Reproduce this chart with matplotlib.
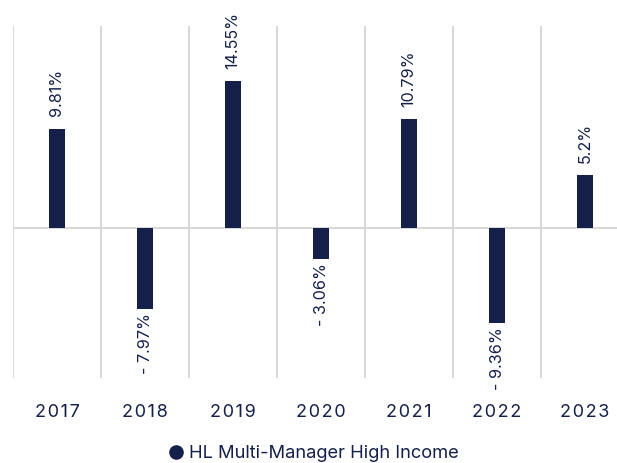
import matplotlib
matplotlib.use("Agg")
import matplotlib.pyplot as plt
from matplotlib.lines import Line2D

plt.rcParams['font.family'] = ['Inter', 'DejaVu Sans']

years = ['2017', '2018', '2019', '2020', '2021', '2022', '2023']
returns = [9.81, -7.97, 14.55, -3.06, 10.79, -9.36, 5.2]
labels = ['9.81%', '- 7.97%', '14.55%', '- 3.06%', '10.79%', '- 9.36%', '5.2%']
series_name = 'HL Multi-Manager High Income'

navy = '#14204a'
grid = '#d4d4d4'

fig = plt.figure(figsize=(6.17, 4.63), dpi=100)
ax = fig.add_axes([13 / 617, 85 / 463, 616 / 617, 352 / 463])

x = list(range(len(years)))
ax.bar(x, returns, width=0.19, color=navy, zorder=3)

for xi, v, lab in zip(x, returns, labels):
    if v >= 0:
        ax.annotate(lab, (xi, v), xytext=(0, 9), textcoords='offset points',
                    rotation=90, ha='center', va='bottom', fontsize=11.7, color=navy)
    else:
        ax.annotate(lab, (xi, v), xytext=(0, -3), textcoords='offset points',
                    rotation=90, ha='center', va='top', fontsize=11.7, color=navy)

# category separators and zero line
for xi in x:
    ax.axvline(xi - 0.5, color=grid, lw=1.3, zorder=1)
ax.axhline(0, color=grid, lw=1.3, zorder=2)

ax.set_xlim(-0.5, len(years) - 0.5)
ax.set_ylim(-14.85, 20)
ax.set_xticks(x)
# slightly tracked-out year labels
ax.set_xticklabels(['\u200a'.join(y) for y in years], fontsize=13, color=navy)
ax.tick_params(axis='x', length=0, pad=19)
ax.set_yticks([])
for s in ax.spines.values():
    s.set_visible(False)

handle = Line2D([], [], marker='o', color=navy, linestyle='none', markersize=9.5)
fig.legend([handle], [series_name], loc='center', bbox_to_anchor=(0.507, 9 / 463),
           frameon=False, fontsize=13.2, labelcolor=navy, handletextpad=0.2,
           handlelength=1.0)

fig.savefig('out.png', dpi=100)
